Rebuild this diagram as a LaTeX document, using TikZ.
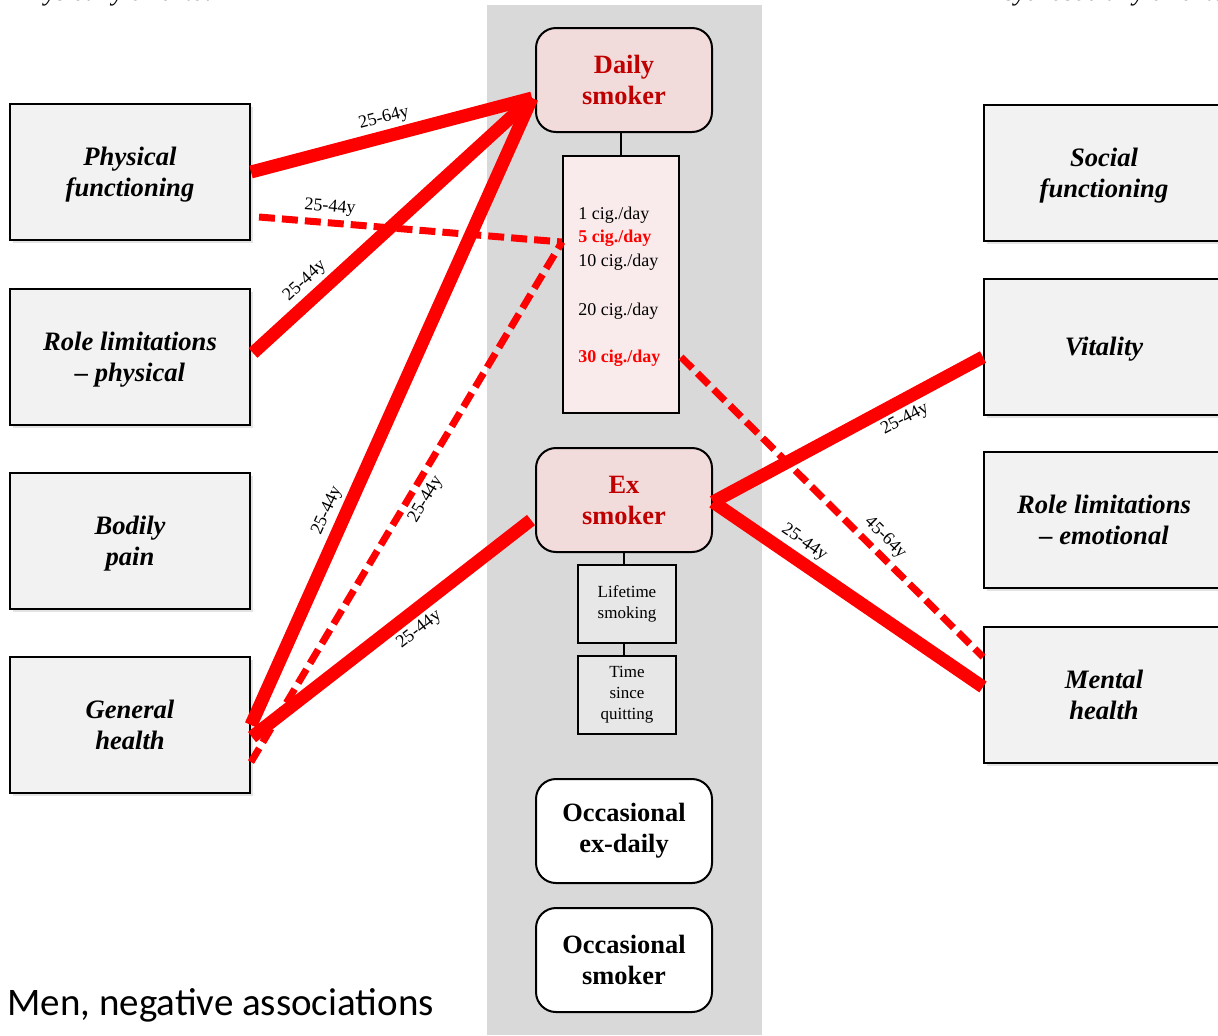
\documentclass[tikz,border=0pt]{standalone}
\usepackage{fontspec}
\setmainfont{Liberation Serif}
\newfontfamily\carlito{Carlito}
\usetikzlibrary{shadows}
\definecolor{bandgray}{HTML}{D9D9D9}
\definecolor{boxfill}{HTML}{F2F2F2}
\definecolor{smokfill}{HTML}{F2DCDB}
\definecolor{cigfill}{HTML}{F9EBEB}
\definecolor{subfill}{HTML}{E7E7E7}
\definecolor{darkred}{HTML}{C00000}
\definecolor{assoc}{HTML}{FF0000}
\tikzset{
  dimbox/.style={draw=black, line width=1pt, fill=boxfill, minimum width=120pt,
    minimum height=68pt, inner sep=0pt, align=center, text depth=0pt,
    font=\fontsize{13.3}{15.5}\selectfont\bfseries\itshape,
    drop shadow={opacity=0.22, shadow xshift=1.5pt, shadow yshift=-1.5pt}},
  statusbox/.style={draw=black, line width=1pt, rounded corners=10pt,
    minimum width=88pt, minimum height=52pt, inner sep=0pt, align=center,
    font=\fontsize{13.2}{15.5}\selectfont\bfseries},
  subbox/.style={draw=black, line width=1pt, fill=subfill, minimum width=49pt,
    minimum height=39pt, inner sep=0pt, align=center,
    font=\fontsize{8.5}{10.5}\selectfont},
  cigtxt/.style={anchor=west, inner sep=0pt, font=\fontsize{9}{10}\selectfont},
  cigbold/.style={cigtxt, text=assoc, font=\fontsize{9}{10}\selectfont\bfseries},
  assocsolid/.style={draw=assoc, line width=6.5pt},
  assocdash/.style={draw=assoc, line width=3.5pt, dash pattern=on 8pt off 3.5pt},
  agelab/.style={font=\fontsize{9}{10}\selectfont, text=black, sloped, inner sep=1pt},
  orient/.style={anchor=base west, inner sep=0pt, font=\fontsize{13}{15}\selectfont\itshape}
}
\begin{document}
\begin{tikzpicture}[x=0.5pt,y=-0.5pt]
\useasboundingbox (0,0) rectangle (1218,1035);
% central band
\fill[bandgray] (487,5) rectangle (762,1035);
% cut-off headings
\node[orient] (physor) at (15,0) {Physically oriented};
\node[orient] (psyor) at (988,0) {Psychosocially oriented};
% left dimension boxes
\node[dimbox] (pf) at (130,172) {Physical\\functioning};
\node[dimbox] (rlp) at (130,357) {Role limitations\\– physical};
\node[dimbox] (bp) at (130,541) {Bodily\\pain};
\node[dimbox] (gh) at (130,725) {General\\health};
% right dimension boxes
\node[dimbox] (sf) at (1104,172.5) {Social\\functioning};
\node[dimbox] (vt) at (1104,346.5) {Vitality};
\node[dimbox] (rle) at (1104,520) {Role limitations\\– emotional};
\node[dimbox] (mh) at (1104,694.5) {Mental\\health};
% smoking status boxes
\node[statusbox, fill=smokfill, text=darkred] (ds) at (624,80) {Daily\\smoker};
\node[statusbox, fill=smokfill, text=darkred] (es) at (624,500) {Ex\\smoker};
\node[statusbox, fill=white] (oed) at (624,831) {Occasional\\ex-daily};
\node[statusbox, fill=white] (os) at (624,960) {Occasional\\smoker};
% cigarettes box
\node[draw=black, line width=1pt, fill=cigfill, minimum width=58pt,
  minimum height=128.5pt, inner sep=0pt] (cb) at (621,284.5) {};
\node[cigtxt] (c1) at (578,215) {1 cig./day};
\node[cigbold] (c5) at (578,238) {5 cig./day};
\node[cigtxt] (c10) at (578,262) {10 cig./day};
\node[cigtxt] (c20) at (578,311) {20 cig./day};
\node[cigbold] (c30) at (578,358) {30 cig./day};
% ex-smoker sub boxes
\node[subbox] (lt) at (627,604) {Lifetime\\smoking};
\node[subbox] (tsq) at (627,694.5) {Time\\since\\quitting};
% black connectors
\draw[line width=1pt] (ds.south -| cb.north) -- (cb.north);
\draw[line width=1pt] (es.south) -- (es.south |- lt.north);
\draw[line width=1pt] (lt.south -| es.south) -- (tsq.north -| es.south);
% associations
\draw[assocsolid] (pf.east) -- node[agelab, pos=0.49, above=0.8pt] {25-64y} ([shift={(-3,18)}]ds.west);
\draw[assocsolid] ([shift={(2,-4)}]rlp.east) -- node[agelab, pos=0.23, above=0.8pt] {25-44y} ([shift={(-3,18)}]ds.west);
\draw[assocsolid] (gh.east) -- node[agelab, pos=0.33, above=0.8pt] {25-44y} ([shift={(-3,18)}]ds.west);
\draw[assocdash] ([shift={(8,45)}]pf.east) -- node[agelab, pos=0.23, above=1pt] {25-44y} ([shift={(0,-42.5)}]cb.west);
\draw[assocdash] ([shift={(0,37)}]gh.east) -- node[agelab, pos=0.52, below=1pt] {25-44y} ([shift={(0,-42.5)}]cb.west);
\draw[assocsolid] ([shift={(1,12)}]gh.east) -- node[agelab, pos=0.56, below=0.8pt] {25-44y} ([shift={(-4,20)}]es.west);
\draw[assocsolid] ([shift={(0,2)}]es.east) -- node[agelab, pos=0.68, below=0.8pt] {25-44y} ([shift={(0,10.5)}]vt.west);
\draw[assocsolid] ([shift={(0,2)}]es.east) -- node[agelab, pos=0.30, above=0.8pt] {25-44y} ([shift={(0,-7.5)}]mh.west);
\draw[assocdash] ([shift={(1,72.5)}]cb.east) -- node[agelab, pos=0.64, above=1pt] {45-64y} ([shift={(0,-37.5)}]mh.west);
% caption
\node[anchor=base west, inner sep=0pt, font=\carlito\fontsize{19.5}{23}\selectfont] (cap) at (7,1015) {Men, negative associations};
\end{tikzpicture}
\end{document}
